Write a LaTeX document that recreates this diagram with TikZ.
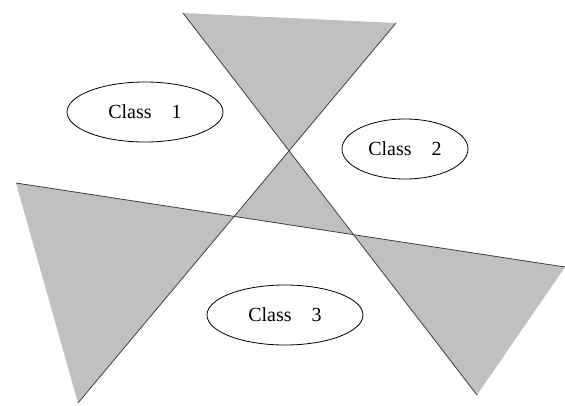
\documentclass[tikz,border=0pt]{standalone}
\usepackage{fontspec}
\setmainfont{Liberation Serif}
\usetikzlibrary{shapes.geometric}
\definecolor{regiongray}{HTML}{C0C0C0}
\definecolor{linegray}{HTML}{404040}

\begin{document}
\begin{tikzpicture}[
    x=0.75pt, y=-0.75pt,
    region/.style={fill=regiongray, draw=none},
    boundary/.style={draw=linegray, line width=0.6pt},
    classnode/.style={draw, ellipse, line width=0.6pt, minimum width=156*0.75pt, minimum height=60*0.75pt, inner sep=0pt, font=\fontsize{15}{17}\selectfont}
]
\useasboundingbox (0,0) rectangle (565,405);
% end points of the three separating lines
\coordinate (a1) at (183,13);
\coordinate (a2) at (477,395);
\coordinate (b1) at (396,23);
\coordinate (b2) at (78,403);
\coordinate (c1) at (16,183);
\coordinate (c2) at (565,267);
\coordinate (ab) at (intersection of a1--a2 and b1--b2);
\coordinate (bc) at (intersection of b1--b2 and c1--c2);
\coordinate (ac) at (intersection of a1--a2 and c1--c2);

% shaded regions
\fill[region] (a1) -- (b1) -- (ab) -- cycle;
\fill[region] (c1) -- (bc) -- (b2) -- cycle;
\fill[region] (ac) -- (c2) -- (a2) -- cycle;
\fill[region] (ab) -- (bc) -- (ac) -- cycle;

% lines
\draw[boundary] (a1) -- (a2);
\draw[boundary] (b1) -- (b2);
\draw[boundary] (c1) -- (c2);

% classes
\node[classnode] (class1) at (145,112) {Class\hspace{1em}1};
\node[classnode, minimum width=126*0.75pt] (class2) at (405,149) {Class\hspace{1em}2};
\node[classnode] (class3) at (285,315) {Class\hspace{1em}3};
\end{tikzpicture}
\end{document}
